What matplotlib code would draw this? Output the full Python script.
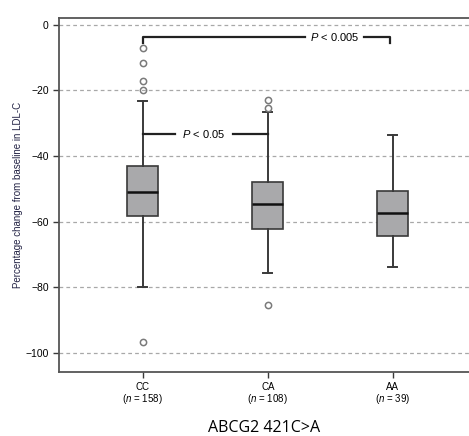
import matplotlib
matplotlib.use("Agg")
import matplotlib.pyplot as plt

plt.rcParams['font.family'] = ['Liberation Sans', 'DejaVu Sans']
plt.rcParams['mathtext.fontset'] = 'custom'
plt.rcParams['mathtext.it'] = 'Liberation Sans:italic'
plt.rcParams['mathtext.rm'] = 'Liberation Sans'

# genotype groups and box statistics
groups = ["CC", "CA", "AA"]
counts = [158, 108, 39]
q1 = [-58.2, -62.2, -64.3]
medians = [-50.9, -54.6, -57.3]
q3 = [-43.0, -47.9, -50.6]
whislo = [-79.9, -75.6, -73.8]
whishi = [-23.2, -26.5, -33.5]
fliers = [[-7.0, -11.6, -17.0, -19.8, -96.6], [-22.9, -25.3, -85.4], []]
yticks = [0, -20, -40, -60, -80, -100]

stats = []
for i in range(3):
    stats.append(dict(label=groups[i], q1=q1[i], med=medians[i], q3=q3[i],
                      whislo=whislo[i], whishi=whishi[i], fliers=fliers[i]))

fig = plt.figure(figsize=(4.69, 4.36), dpi=100)
ax = fig.add_axes([0.126, 0.147, 0.874, 0.812])

edge = "#3a3a3a"
ax.bxp(stats, positions=[1, 2, 3], widths=0.25, patch_artist=True,
       boxprops=dict(facecolor="#a9a9ab", edgecolor=edge, linewidth=1.2),
       medianprops=dict(color="#111111", linewidth=1.8),
       whiskerprops=dict(color=edge, linewidth=1.4),
       capprops=dict(color=edge, linewidth=1.4),
       capwidths=0.07,
       flierprops=dict(marker="o", markerfacecolor="none", markeredgecolor="#7a7a7a",
                       markersize=4.5, markeredgewidth=1.1))

for y in yticks:
    ax.axhline(y, color="#a8a8a8", linestyle=(0, (3, 2.5)), linewidth=0.9, zorder=0)

ax.set_xlim(0.33, 3.61)
ax.set_ylim(-105.8, 2.1)
ax.set_yticks(yticks)
ax.set_yticklabels(["0" if v == 0 else "\u2212%d" % -v for v in yticks], fontsize=7.5)
ax.set_xticks([1, 2, 3])
ax.set_xticklabels(["%s\n($\\mathit{n}$ = %d)" % (g, c) for g, c in zip(groups, counts)],
                   fontsize=7, linespacing=0.95)
ax.tick_params(axis="both", length=4, width=1, color=edge)
ax.spines['right'].set_visible(False)
for s in ['left', 'top', 'bottom']:
    ax.spines[s].set_color("#555555")
    ax.spines[s].set_linewidth(1.3)

ax.set_ylabel("Percentage change from baseline in LDL-C", fontsize=7, color="#222244", labelpad=2)
ax.set_xlabel("ABCG2 421C>A", fontsize=11.5, family="Open Sans", labelpad=10)

# significance brackets
bc = "#222222"
ax.plot([1, 1, 2.3], [-5.6, -3.7, -3.7], color=bc, linewidth=1.6)
ax.plot([2.77, 2.98, 2.98], [-3.7, -3.7, -5.6], color=bc, linewidth=1.6)
ax.text(2.535, -3.7, "$\\mathit{P}$ < 0.005", ha="center", va="center", fontsize=8)
ax.plot([1, 1.26], [-33.3, -33.3], color=bc, linewidth=1.6)
ax.plot([1.72, 2], [-33.3, -33.3], color=bc, linewidth=1.6)
ax.text(1.49, -33.3, "$\\mathit{P}$ < 0.05", ha="center", va="center", fontsize=8)

fig.savefig("out.png", dpi=100)
